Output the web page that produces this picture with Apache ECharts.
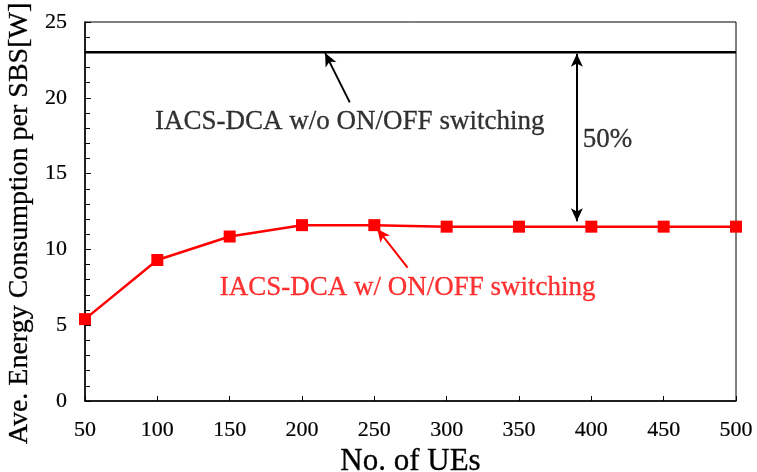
<!DOCTYPE html>
<html>
<head>
<meta charset="utf-8">
<script src="https://cdn.jsdelivr.net/npm/echarts@6/dist/echarts.min.js"></script>
<style>html,body{margin:0;padding:0;background:#fff;}#c{width:757px;height:472px;}</style>
</head>
<body>
<div id="c"></div>
<script>
const ues = [50, 100, 150, 200, 250, 300, 350, 400, 450, 500];
const withSwitching = [5.4, 9.3, 10.85, 11.6, 11.6, 11.5, 11.5, 11.5, 11.5, 11.5];
const withoutSwitching = [23, 23, 23, 23, 23, 23, 23, 23, 23, 23];
const yTicks = [0, 5, 10, 15, 20, 25];
const labelWithout = 'IACS-DCA w/o ON/OFF switching';
const labelWith = 'IACS-DCA w/ ON/OFF switching';
const labelGap = '50%';

// annotation anchor points in data coordinates
const blackArrow = [[233, 19.7], [216, 22.95]];
const gapArrow = [[390, 11.85], [390, 22.9]];
const redArrow = [[273, 8.8], [252, 11.35]];
const blackTextPos = [233, 18.4];
const gapTextPos = [394, 17.2];
const redTextPos = [273, 7.45];

const font = 'Liberation Serif';
const chart = echarts.init(document.getElementById('c'));

function textSeries(pos, text, color, align) {
  return {
    type: 'scatter', data: [pos], symbolSize: 1, silent: true,
    itemStyle: { color: 'rgba(0,0,0,0)' },
    label: { show: true, position: 'inside', formatter: text, color: color,
      textBorderColor: color, textBorderWidth: 0.3,
      fontFamily: font, fontSize: 27, align: align || 'center', verticalAlign: 'middle' },
    z: 5
  };
}

chart.setOption({
  animation: false,
  backgroundColor: '#fff',
  grid: { left: 85, right: 21, top: 22, bottom: 71, show: true, borderColor: '#000', borderWidth: 1,
    containLabel: false, outerBoundsMode: 'none' },
  xAxis: {
    type: 'value', min: 50, max: 500, interval: 50,
    name: 'No. of UEs', nameLocation: 'middle', nameGap: 41,
    nameTextStyle: { fontFamily: font, fontSize: 31, color: '#000', textBorderColor: '#000', textBorderWidth: 0.3 },
    axisLine: { show: true, lineStyle: { color: '#000', width: 1.5 } },
    axisTick: { show: true, inside: true, length: 5, lineStyle: { color: '#000' } },
    axisLabel: { margin: 18, fontFamily: font, fontSize: 22, color: '#000', textBorderColor: '#000', textBorderWidth: 0.2 },
    splitLine: { show: false }
  },
  yAxis: {
    type: 'value', min: 0, max: 25, interval: 5,
    name: 'Ave. Energy Consumption per SBS[W]', nameLocation: 'middle', nameGap: 41,
    nameTextStyle: { fontFamily: font, fontSize: 28, color: '#000', padding: [0, 24, 0, 0],
      textBorderColor: '#000', textBorderWidth: 0.3 },
    axisLine: { show: true, lineStyle: { color: '#000', width: 1.5 } },
    axisTick: { show: true, inside: true, length: 6, lineStyle: { color: '#000' } },
    minorTick: { show: true, splitNumber: 5, length: 5, lineStyle: { color: '#000' } },
    axisLabel: { margin: 18, fontFamily: font, fontSize: 22, color: '#000', textBorderColor: '#000', textBorderWidth: 0.2,
      formatter: v => yTicks.includes(v) ? String(v) : '' },
    splitLine: { show: false }
  },
  series: [
    {
      type: 'line', data: ues.map((u, i) => [u, withoutSwitching[i]]),
      symbol: 'none', lineStyle: { color: '#000', width: 2.5 }, silent: true,
      markLine: {
        silent: true, animation: false, symbolSize: [9, 13],
        lineStyle: { color: '#000', width: 2, type: 'solid' },
        label: { show: false },
        data: [
          [{ coord: blackArrow[0], symbol: 'none' }, { coord: blackArrow[1], symbol: 'arrow' }],
          [{ coord: gapArrow[0], symbol: 'arrow' }, { coord: gapArrow[1], symbol: 'arrow' }]
        ]
      }
    },
    {
      type: 'line', data: ues.map((u, i) => [u, withSwitching[i]]),
      symbol: 'rect', symbolSize: 12, showAllSymbol: true,
      itemStyle: { color: '#ff0000' }, lineStyle: { color: '#ff0000', width: 2.5 }, silent: true,
      markLine: {
        silent: true, animation: false, symbolSize: [9, 13],
        lineStyle: { color: '#ff0000', width: 2, type: 'solid' },
        label: { show: false },
        data: [
          [{ coord: redArrow[0], symbol: 'none' }, { coord: redArrow[1], symbol: 'arrow' }]
        ]
      }
    },
    textSeries(blackTextPos, labelWithout, '#000'),
    textSeries(gapTextPos, labelGap, '#000', 'left'),
    textSeries(redTextPos, labelWith, '#ff0000')
  ]
});
</script>
</body>
</html>
